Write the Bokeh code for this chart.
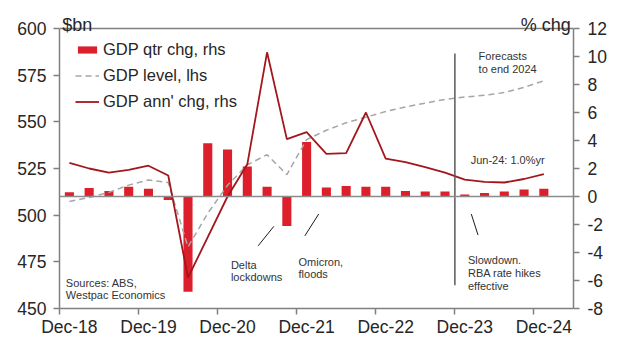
from bokeh.plotting import figure
from bokeh.models import Range1d, LinearAxis, FixedTicker, Span, Label, Legend, LegendItem
from bokeh.embed import file_html
from bokeh.resources import INLINE

# ---------------- data ----------------
quarters = ["Dec-18", "Mar-19", "Jun-19", "Sep-19", "Dec-19", "Mar-20", "Jun-20", "Sep-20",
            "Dec-20", "Mar-21", "Jun-21", "Sep-21", "Dec-21", "Mar-22", "Jun-22", "Sep-22",
            "Dec-22", "Mar-23", "Jun-23", "Sep-23", "Dec-23", "Mar-24", "Jun-24", "Sep-24",
            "Dec-24"]
qtr_chg = [0.3, 0.6, 0.4, 0.7, 0.55, -0.25, -6.8, 3.8, 3.35, 2.15, 0.7, -2.1, 3.9,
           0.65, 0.75, 0.7, 0.7, 0.4, 0.35, 0.35, 0.15, 0.25, 0.35, 0.5, 0.55]
ann_chg = [2.4, 2.0, 1.7, 1.9, 2.2, 1.5, -5.8, -2.9, 0.0, 2.3, 10.3, 4.1, 4.6,
           3.05, 3.1, 6.0, 2.7, 2.45, 2.1, 1.7, 1.2, 1.05, 1.0, 1.25, 1.6]
gdp_level = [507.3, 509.5, 512.2, 516.1, 518.8, 517.5, 483.0, 501.0, 516.0, 527.0, 532.4,
             521.7, 540.5, 545.5, 549.5, 552.5, 555.5, 558.0, 560.0, 562.0, 563.3, 564.2,
             565.7, 568.5, 572.0]
year_ticks = ["Dec-18", "Dec-19", "Dec-20", "Dec-21", "Dec-22", "Dec-23", "Dec-24"]
left_ticks = [450, 475, 500, 525, 550, 575, 600]
right_ticks = [-8, -6, -4, -2, 0, 2, 4, 6, 8, 10, 12]
forecast_from = "Dec-23"

# ---------------- layout ----------------
FONT = "Liberation Sans"
AXIS_COL = "#808080"
TOP, BOTTOM = 12, 35          # borders (px)
AXIS_TOP_PX = 28              # where the 600 / 12 ticks sit
H = 343
axis_h = (H - BOTTOM) - AXIS_TOP_PX
pad_px = AXIS_TOP_PX - TOP
l_lo, l_hi = left_ticks[0], left_ticks[-1]
r_lo, r_hi = right_ticks[0], right_ticks[-1]
l_top = l_hi + pad_px * (l_hi - l_lo) / axis_h
r_top = r_hi + pad_px * (r_hi - r_lo) / axis_h

xpos = [i + 0.5 for i in range(len(quarters))]
tick_pos = [quarters.index(q) for q in year_ticks]
label_pos = [t + 0.5 for t in tick_pos]
fc_x = quarters.index(forecast_from)

p = figure(width=625, height=H, output_backend="svg", toolbar_location=None,
           x_range=Range1d(0, len(quarters) + 1), y_range=Range1d(l_lo, l_top),
           x_axis_location=None, y_axis_location=None,
           min_border_left=59, min_border_right=52, min_border_top=TOP,
           min_border_bottom=BOTTOM)
p.extra_y_ranges = {"rhs": Range1d(r_lo, r_top)}
p.xgrid.visible = False
p.ygrid.visible = False
p.outline_line_color = None
p.background_fill_color = "white"
p.border_fill_color = "white"

def style_axis(ax, standoff):
    ax.axis_line_color = AXIS_COL
    ax.axis_line_width = 1.5
    ax.major_tick_line_color = AXIS_COL
    ax.major_tick_line_width = 1.5
    ax.major_tick_out = 6
    ax.major_tick_in = 0
    ax.minor_tick_out = 0
    ax.minor_tick_in = 0
    ax.major_label_text_font = FONT
    ax.major_label_text_font_size = "17.5px"
    ax.major_label_text_color = "#262626"
    ax.major_label_standoff = standoff

# x axis: tick marks at year boundaries, labels centred on the quarter
xa_ticks = LinearAxis(ticker=FixedTicker(ticks=tick_pos),
                      major_label_overrides={t: "" for t in tick_pos})
style_axis(xa_ticks, 0)
p.add_layout(xa_ticks, "below")
xa_lab = LinearAxis(ticker=FixedTicker(ticks=label_pos),
                    major_label_overrides={t: l for t, l in zip(label_pos, year_ticks)})
style_axis(xa_lab, 2)
xa_lab.axis_line_color = None
xa_lab.major_tick_line_color = None
xa_lab.major_tick_out = 0
p.add_layout(xa_lab, "below")

ya = LinearAxis(ticker=FixedTicker(ticks=left_ticks), bounds=(l_lo, l_hi))
style_axis(ya, 7)
p.add_layout(ya, "left")

ra = LinearAxis(y_range_name="rhs", ticker=FixedTicker(ticks=right_ticks), bounds=(r_lo, r_hi),
                major_label_overrides={t: str(t) for t in right_ticks})
style_axis(ra, 8)
p.add_layout(ra, "right")

top_line = Span(location=l_hi, dimension="width", line_color=AXIS_COL, line_width=1.5)
p.add_layout(top_line)

# ---------------- glyphs ----------------
bars = p.vbar(x=xpos, top=qtr_chg, bottom=0, width=0.46, y_range_name="rhs",
              fill_color="#DD1F2B", line_color=None)
zero = Span(location=0, dimension="width", y_range_name="rhs",
            line_color="#8C8C8C", line_width=1.5)
p.add_layout(zero)
lvl = p.line(x=xpos, y=gdp_level, line_color="#A6A6A6", line_width=1.5, line_dash="6 4")
ann = p.line(x=xpos, y=ann_chg, y_range_name="rhs", line_color="#A3161C", line_width=1.8)

# forecast divider
p.segment(x0=[fc_x], x1=[fc_x], y0=[586.6], y1=[462.5], line_color="#595959", line_width=1.5)

# pointer lines
p.segment(x0=[10.84, 13.11, 20.83], x1=[10.05, 12.41, 21.17],
          y0=[494.0, 500.6, 500.6], y1=[483.6, 488.9, 489.4],
          line_color="#1a1a1a", line_width=1)

# ---------------- legend ----------------
legend = Legend(items=[LegendItem(label="GDP qtr chg, rhs", renderers=[bars]),
                       LegendItem(label="GDP level, lhs", renderers=[lvl]),
                       LegendItem(label="GDP ann' chg, rhs", renderers=[ann])],
                location=(16, 197), margin=0, padding=4,
                border_line_color=None, background_fill_alpha=0,
                label_text_font=FONT, label_text_font_size="16.5px",
                label_text_color="#262626",
                glyph_width=24, glyph_height=9, label_standoff=4, spacing=7,
                label_height=19)
p.add_layout(legend)

# ---------------- text ----------------
def lab(x, y, text, size="11px", align="left", color="#333333"):
    p.add_layout(Label(x=x, y=y, text=text, text_font=FONT, text_font_size=size,
                       text_align=align, text_baseline="alphabetic", text_color=color))

lab(0.14, 601.7, "$bn", size="18px", color="#262626")
lab(25.86, 601.7, "% chg", size="18px", align="right", color="#262626")
lab(21.2, 585.5, "Forecasts")
lab(21.2, 578.5, "to end 2024")
lab(20.8, 529.7, "Jun-24: 1.0%yr")
lab(20.66, 476.0, "Slowdown.")
lab(20.66, 469.0, "RBA rate hikes")
lab(20.66, 462.2, "effective")
lab(8.67, 473.4, "Delta")
lab(8.67, 466.7, "lockdowns")
lab(12.09, 475.0, "Omicron,")
lab(12.09, 468.6, "floods")
lab(0.32, 463.9, "Sources: ABS,")
lab(0.32, 457.3, "Westpac Economics")

open("out.html", "w").write(file_html(p, INLINE))
